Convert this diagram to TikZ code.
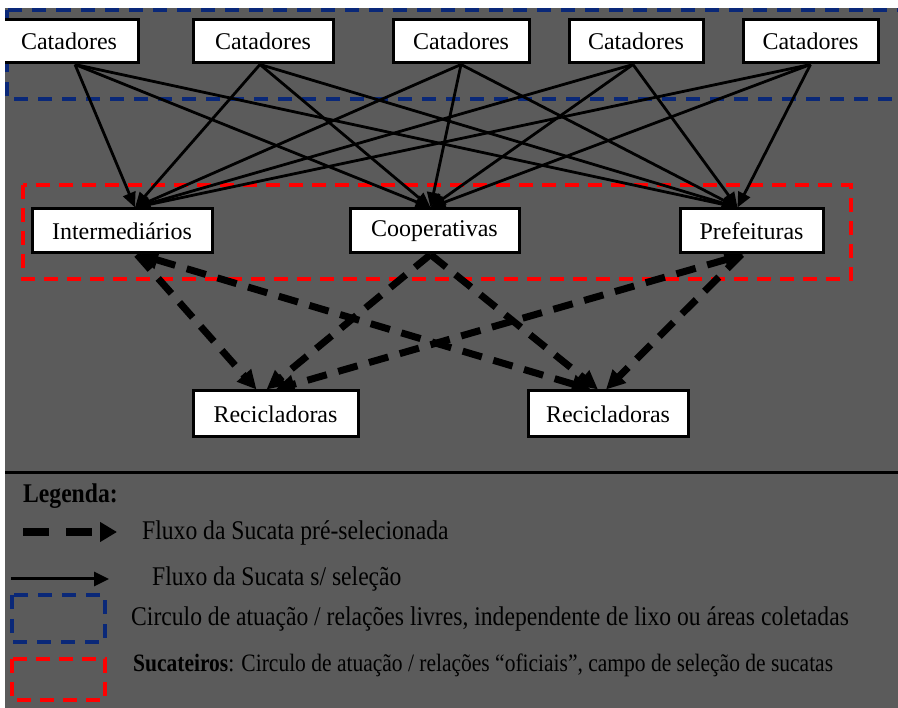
\documentclass[tikz,border=0pt]{standalone}
\usepackage{fontspec}
\setmainfont{Liberation Serif}
\newfontfamily\legfont[FakeStretch=0.875]{Liberation Serif}
\newfontfamily\legfontb[FakeStretch=0.86]{Liberation Serif}
\usetikzlibrary{arrows.meta}
\definecolor{bggray}{RGB}{91,91,91}
\definecolor{navyb}{RGB}{10,40,120}
\definecolor{redd}{RGB}{255,0,0}
\pgfdeclarelayer{bgl}
\pgfdeclarelayer{arr}
\pgfdeclarelayer{fgl}
\pgfsetlayers{bgl,arr,main,fgl}
\tikzset{
 box/.style={draw=black, line width=3pt, fill=white, inner sep=0pt, text=black,
   font=\fontsize{24}{26}\selectfont},
 solidarrow/.style={line width=2.8pt, -{Triangle[length=15pt,width=13pt]}},
 dasharrow/.style={line width=7pt, dash pattern=on 20pt off 12pt, -{Triangle[length=19pt,width=18pt]}},
 dasharrowtwo/.style={line width=7pt, dash pattern=on 20pt off 12pt,
   {Triangle[length=19pt,width=18pt]}-{Triangle[length=19pt,width=18pt]}},
 bluebox/.style={draw=navyb, line width=4pt, dash pattern=on 14pt off 10pt},
 redbox/.style={draw=redd, line width=4pt, dash pattern=on 14pt off 9pt},
 legtext/.style={anchor=base west, inner sep=0pt, text=black, font=\legfont\fontsize{27}{30}\selectfont},
 legtextb/.style={anchor=base west, inner sep=0pt, text=black, font=\legfontb\fontsize{25}{28}\selectfont},
}
\begin{document}
\begin{tikzpicture}[x=1pt,y=-1pt]
\useasboundingbox (0,0) rectangle (898,708);
\begin{pgfonlayer}{bgl}
\fill[white] (0,0) rectangle (898,708);
\fill[bggray] (5,8) rectangle (898,708);
\draw[bluebox] (6.5,10.5) rectangle (910,99);
\draw[redbox] (23,185) rectangle (851,279);
\end{pgfonlayer}

% top row
\node[box, minimum width=138pt, minimum height=43pt] (c1) at (69,41.5) {Catadores};
\node[box, minimum width=140pt, minimum height=43pt] (c2) at (263,41.5) {Catadores};
\node[box, minimum width=136pt, minimum height=43pt] (c3) at (461,41.5) {Catadores};
\node[box, minimum width=134pt, minimum height=43pt] (c4) at (636,41.5) {Catadores};
\node[box, minimum width=135pt, minimum height=43pt] (c5) at (810.5,41.5) {Catadores};
% middle row
\node[box, minimum width=180pt, minimum height=44pt] (inter) at (122,231) {Intermediários};
\node[box, minimum width=169pt, minimum height=44pt] (coop) at (434.5,231) {Cooperativas};
\node[box, minimum width=143pt, minimum height=44pt] (pref) at (751.5,231) {Prefeituras};
% bottom row
\node[box, minimum width=165pt, minimum height=46pt] (recL) at (275.5,414) {Recicladoras};
\node[box, minimum width=160pt, minimum height=46pt] (recR) at (608,414) {Recicladoras};

\begin{pgfonlayer}{arr}
\foreach \s/\sx in {c1/6,c2/-3,c3/0,c4/-3,c5/0}{
  \foreach \t/\tx in {inter/13,coop/-4,pref/-14}{
    \draw[solidarrow] ([xshift=\sx pt]\s.south) -- ([xshift=\tx pt]\t.north);
  }
}
\draw[dasharrow] ([xshift=15pt]inter.south) -- ([xshift=-19pt]recL.north);
\draw[dasharrow] ([xshift=-4pt]coop.south) -- ([xshift=-9pt]recL.north);
\draw[dasharrowtwo] ([xshift=-8pt]pref.south) -- ([xshift=0pt]recL.north);
\draw[dasharrowtwo] ([xshift=17pt]inter.south) -- ([xshift=-17pt]recR.north);
\draw[dasharrow] ([xshift=-4pt]coop.south) -- ([xshift=-10pt]recR.north);
\draw[dasharrow] ([xshift=-10pt]pref.south) -- ([xshift=-2pt]recR.north);
\end{pgfonlayer}

\begin{pgfonlayer}{fgl}
\fill[white] (0,0) rectangle (898,8);
\fill[white] (0,0) rectangle (5,708);
\end{pgfonlayer}

% separator
\coordinate (sepA) at (5,473);
\coordinate (sepB) at (898,473);
\draw[line width=3pt, black] (sepA) -- (sepB);

% legend
\node[legtext, font=\legfont\bfseries\fontsize{27}{30}\selectfont] (lgT) at (23,503) {Legenda:};
\coordinate (la1) at (23,532);
\coordinate (la2) at (117,532);
\draw[line width=8pt, dash pattern=on 26pt off 17pt, -{Triangle[length=17pt,width=19pt]}] (la1) -- (la2);
\node[legtext] (lg1) at (142,540) {Fluxo da Sucata pré-selecionada};
\coordinate (lb1) at (11,579);
\coordinate (lb2) at (109,579);
\draw[line width=3pt, -{Triangle[length=15pt,width=14pt]}] (lb1) -- (lb2);
\node[legtext] (lg2) at (152,586) {Fluxo da Sucata s/ seleção};
\coordinate (lc1) at (12,595);
\coordinate (lc2) at (105,642);
\draw[bluebox] (lc1) rectangle (lc2);
\node[legtext] (lg3) at (131,626) {Circulo de atuação / relações livres, independente de lixo ou áreas coletadas};
\coordinate (ld1) at (12,659);
\coordinate (ld2) at (105,700);
\draw[redbox] (ld1) rectangle (ld2);
\node[legtextb] (lg4) at (133,672) {\textbf{Sucateiros}: Circulo de atuação / relações “oficiais”, campo de seleção de sucatas};
\end{tikzpicture}
\end{document}
